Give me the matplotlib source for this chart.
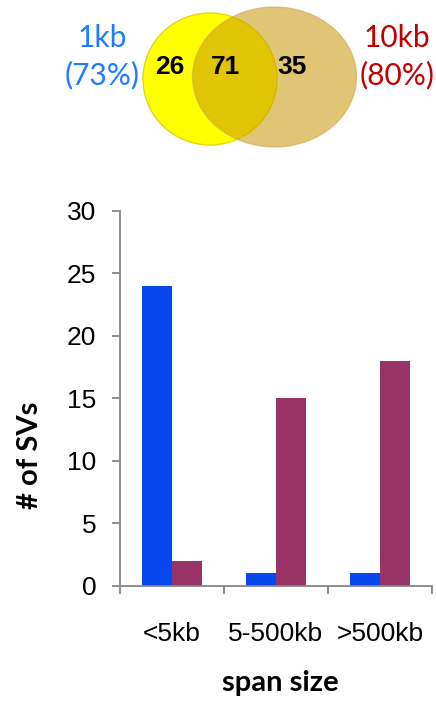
import numpy as np
import matplotlib
matplotlib.use("Agg")
import matplotlib.pyplot as plt
from matplotlib.patches import Ellipse

# Venn counts: only-1kb, shared, only-10kb
VENN_COUNTS = [26, 71, 35]
VENN_LEFT = ["1kb", "(73%)"]
VENN_RIGHT = ["10kb", "(80%)"]

# bar chart
CATEGORIES = ["<5kb", "5-500kb", ">500kb"]
SV_1KB = [24, 1, 1]
SV_10KB = [2, 15, 18]

ARIAL = "Liberation Sans"
CALIBRI = "Lato"

W, H = 436, 703
fig = plt.figure(figsize=(W / 100, H / 100), dpi=100)
fig.patch.set_facecolor("white")

# ── venn (pixel coords) ──────────────────────────────────────────────────────
vax = fig.add_axes([0, 1 - 160 / H, 1, 160 / H])
vax.set_xlim(0, W)
vax.set_ylim(160, 0)
vax.axis("off")

vax.add_patch(Ellipse((210, 79), 134, 132, facecolor="#ffff00",
                      edgecolor="#e8d800", lw=1.0, zorder=1))
vax.add_patch(Ellipse((274.5, 77), 164, 140, facecolor=(0.78, 0.60, 0.04),
                      alpha=0.56, edgecolor="#c8a860", lw=1.0, zorder=2))

for x, n in zip([170, 225, 292], VENN_COUNTS):
    vax.text(x, 67, str(n), ha="center", va="center", fontsize=19,
             fontweight="bold", family=ARIAL, color="black", zorder=3)

vax.text(102, 38, VENN_LEFT[0], ha="center", va="center", fontsize=21.5,
         family=CALIBRI, color="#1f7bff")
vax.text(102, 75, VENN_LEFT[1], ha="center", va="center", fontsize=21.5,
         family=CALIBRI, color="#1f7bff")
vax.text(397, 38, VENN_RIGHT[0], ha="center", va="center", fontsize=21.5,
         family=CALIBRI, color="#c00000")
vax.text(397, 75, VENN_RIGHT[1], ha="center", va="center", fontsize=21.5,
         family=CALIBRI, color="#c00000")

# ── bar chart ────────────────────────────────────────────────────────────────
left, right = 120 / W, 432 / W
bottom, top = (H - 585.7) / H, (H - 211) / H
ax = fig.add_axes([left, bottom, right - left, top - bottom])

x = np.arange(len(CATEGORIES))
bw = 0.285
ax.bar(x - bw / 2, SV_1KB, bw, color="#0647ee", zorder=2)
ax.bar(x + bw / 2, SV_10KB, bw, color="#993366", zorder=2)

ax.set_xlim(-0.5, len(CATEGORIES) - 0.5)
ax.set_ylim(0, 30)
ax.set_yticks(range(0, 31, 5))
ax.set_xticks(x)
ax.set_xticklabels(CATEGORIES)
ax.set_xticks(np.arange(-0.5, len(CATEGORIES), 1), minor=True)

for s in ["top", "right"]:
    ax.spines[s].set_visible(False)
for s in ["left", "bottom"]:
    ax.spines[s].set_color("#868686")
    ax.spines[s].set_linewidth(1.3)

ax.tick_params(axis="y", direction="out", length=6, width=1.3,
               color="#868686", pad=11, labelsize=19)
ax.tick_params(axis="x", which="major", length=0, pad=26, labelsize=19)
ax.tick_params(axis="x", which="minor", direction="out", length=5.5,
               width=1.3, color="#868686")
for lab in ax.get_xticklabels() + ax.get_yticklabels():
    lab.set_family(ARIAL)

fig.text(30 / W, 1 - 455 / H, "# of SVs", rotation=90, ha="center",
         va="center", fontsize=21, fontweight="bold", family=CALIBRI)
fig.text(280 / W, 1 - 683 / H, "span size", ha="center", va="center",
         fontsize=21, fontweight="bold", family=CALIBRI)

fig.savefig("out.png", dpi=100)
